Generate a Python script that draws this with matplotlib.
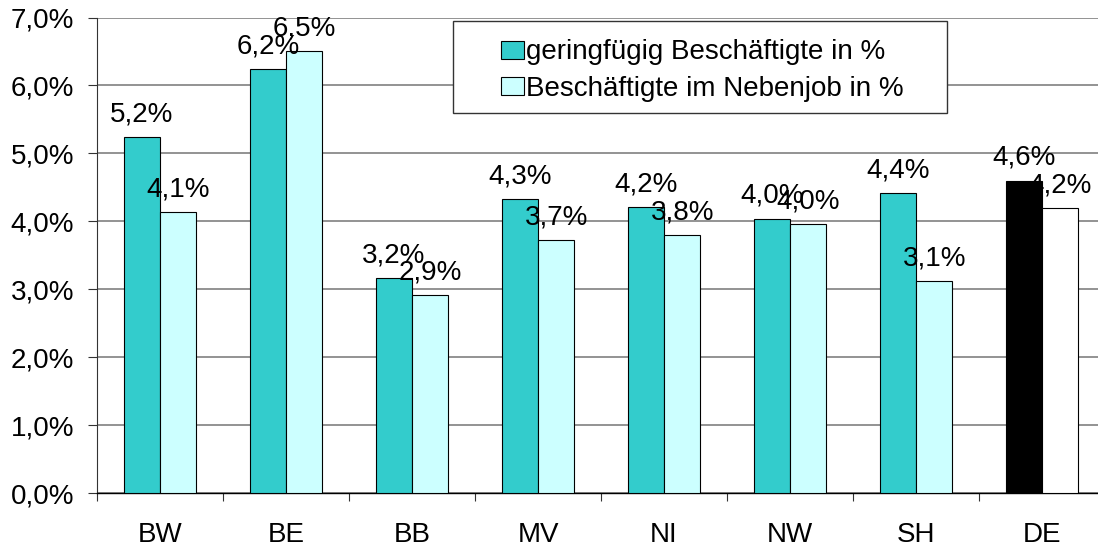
import numpy as np
import matplotlib
matplotlib.use("Agg")
import matplotlib.pyplot as plt
from matplotlib.patches import Rectangle, Patch

plt.rcParams['font.family'] = ['Liberation Sans', 'DejaVu Sans']

# data
laender = ['BW', 'BE', 'BB', 'MV', 'NI', 'NW', 'SH', 'DE']
geringfuegig = [5.24, 6.24, 3.17, 4.33, 4.21, 4.04, 4.42, 4.60]
nebenjob = [4.14, 6.50, 2.92, 3.73, 3.80, 3.96, 3.12, 4.19]
y_ticks = [0, 1, 2, 3, 4, 5, 6, 7]
y_ticklabels = ['0,0%', '1,0%', '2,0%', '3,0%', '4,0%', '5,0%', '6,0%', '7,0%']
series_names = ['geringfügig Beschäftigte in %', 'Beschäftigte im Nebenjob in %']

teal = '#33CCCC'
light = '#CCFFFF'

W, H = 1098, 549
fig = plt.figure(figsize=(W / 100, H / 100), dpi=100)
# plot area runs past the right edge of the picture, like the original crop
ax = fig.add_axes([97 / W, (H - 493.3) / H, 1008 / W, (493.3 - 17.5) / H])

x = np.arange(len(laender))
bw = 0.288
teal_cols = [teal] * (len(laender) - 1) + ['black']
light_cols = [light] * (len(laender) - 1) + ['white']

b1 = ax.bar(x - bw / 2, geringfuegig, bw, color=teal_cols, edgecolor='black', linewidth=0.8, zorder=3)
b2 = ax.bar(x + bw / 2, nebenjob, bw, color=light_cols, edgecolor='black', linewidth=0.8, zorder=3)

def fmt(v):
    return f"{v:.1f}".replace('.', ',') + '%'

for bars, vals in [(b1, geringfuegig), (b2, nebenjob)]:
    for r, v in zip(bars, vals):
        ax.annotate(fmt(v), (r.get_x() + r.get_width() / 2, v), xytext=(0, 7),
                    textcoords='offset points', ha='center', va='bottom',
                    fontsize=20, zorder=5)

ax.set_xlim(-0.5, 7.5)
ax.set_ylim(0, 7)
ax.set_yticks(y_ticks)
ax.set_yticklabels(y_ticklabels, fontsize=20)
ax.set_xticks(x)
ax.set_xticklabels(laender, fontsize=20)
ax.set_xticks(np.arange(-0.5, 8, 1), minor=True)
ax.tick_params(axis='x', which='major', length=0, pad=21)
ax.tick_params(axis='x', which='minor', length=6, width=0.8, color='#333333')
ax.tick_params(axis='y', length=6.5, width=0.8, color='#333333', pad=10)

ax.yaxis.grid(True, color='#808080', linewidth=1.2, zorder=0)
ax.set_axisbelow(True)
for s in ['top', 'right']:
    ax.spines[s].set_visible(False)
ax.spines['left'].set_color('#333333')
ax.spines['left'].set_linewidth(0.8)
ax.spines['bottom'].set_color('black')
ax.spines['bottom'].set_linewidth(1.0)

# legend box (Excel style, wider than its content)
box = Rectangle((452.7 / W, (H - 112.7) / H), (947.3 - 452.7) / W, (112.7 - 20.7) / H,
                transform=fig.transFigure, facecolor='white', edgecolor='#333333',
                linewidth=1.0, zorder=6)
fig.patches.append(box)
handles = [Patch(facecolor=teal, edgecolor='black', linewidth=0.8),
           Patch(facecolor=light, edgecolor='black', linewidth=0.8)]
leg = fig.legend(handles, series_names, loc='upper left',
                 bbox_to_anchor=(482 / W, (H - 20) / H), frameon=False,
                 fontsize=20, handlelength=0.8, handleheight=0.62,
                 handletextpad=0.08, labelspacing=0.38, borderpad=0.2)
leg.set_zorder(7)

fig.savefig('out.png', dpi=100)
